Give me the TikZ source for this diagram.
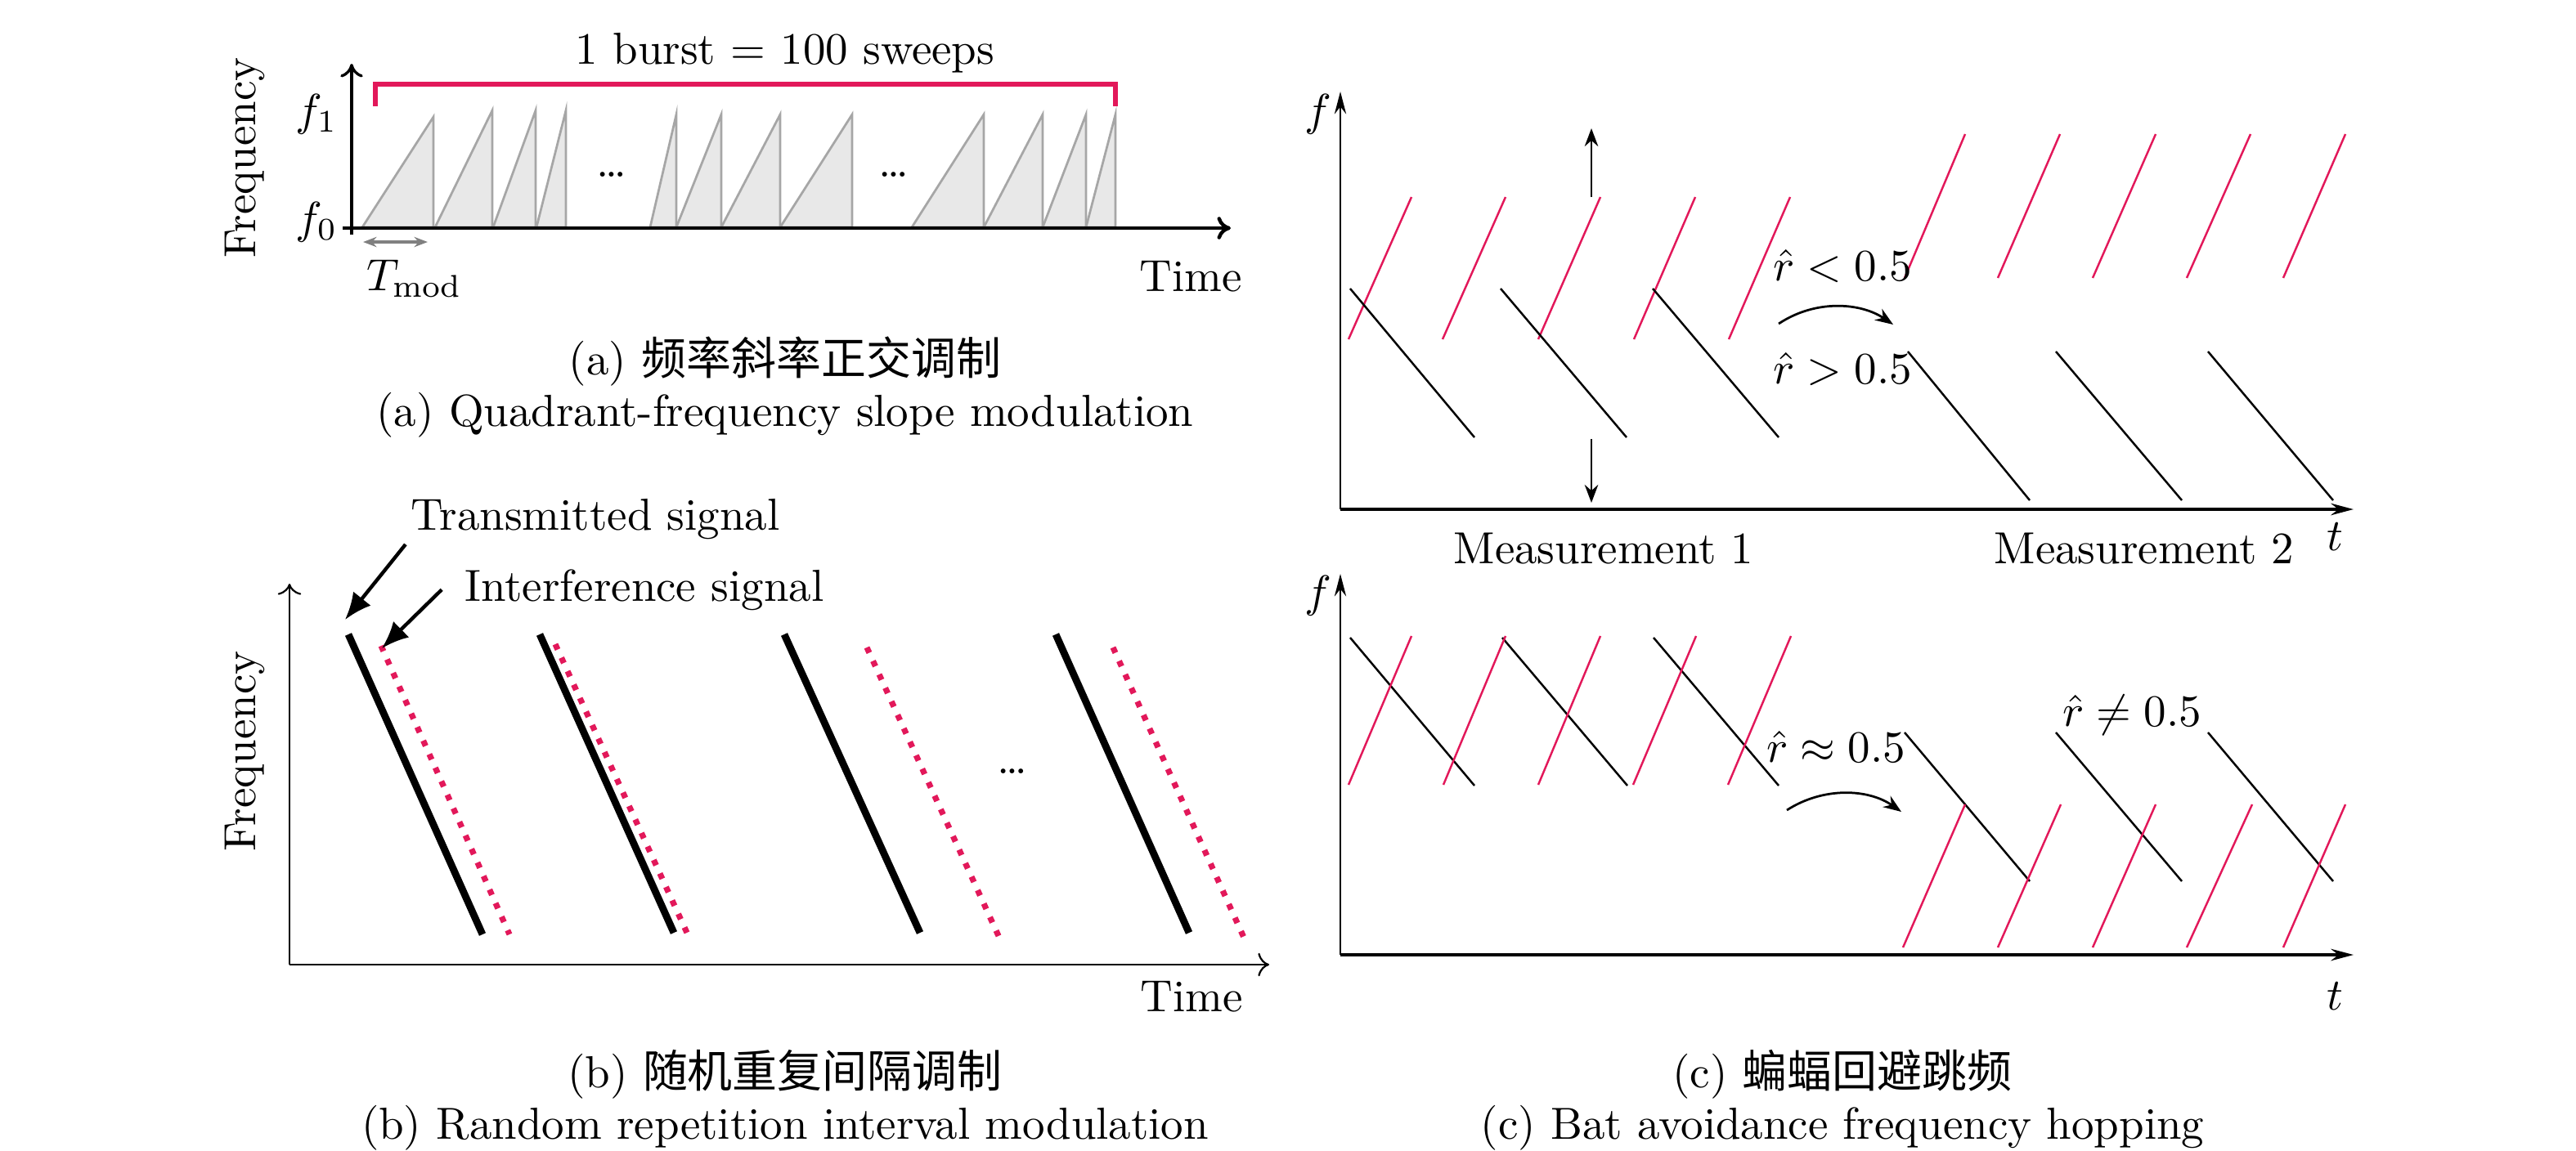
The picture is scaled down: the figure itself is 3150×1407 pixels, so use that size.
\documentclass[tikz,border=0pt]{standalone}
\usepackage{fontspec}
\newfontfamily\cjk{Noto Sans CJK SC}
\usetikzlibrary{positioning,arrows.meta}
\definecolor{hopred}{RGB}{226,24,90}
\tikzset{
  lbl/.style={inner sep=1pt, anchor=base},
  ylbl/.style={inner sep=1pt, rotate=90},
  axisa/.style={line width=0.6pt, -{To[length=3pt,width=5pt]}},
  axisb/.style={line width=0.4pt, ->},
  axisc/.style={line width=0.4pt, -{Stealth[length=5pt,width=2.6pt]}},
  tooth/.style={draw=gray!70, fill=gray!18, line width=0.5pt},
  bracket/.style={draw=hopred, line width=1pt},
  txline/.style={line width=1.6pt},
  ifline/.style={hopred, dotted, line width=1.3pt},
  sigarrow/.style={line width=0.8pt, -{Latex[length=6pt,width=5pt]}},
  upchirp/.style={hopred, line width=0.45pt},
  downchirp/.style={line width=0.45pt},
  hoparrow/.style={line width=0.5pt, -{Stealth[length=4pt,width=3pt]}},
}

\begin{document}
\begin{tikzpicture}[x=0.182pt, y=-0.182pt]
\useasboundingbox (0,0) rectangle (3150,1407);

% (a) slope modulation
\filldraw[tooth] (443,278) -- (530,143) -- (530,278) -- cycle;
\filldraw[tooth] (532,278) -- (602,135) -- (602,278) -- cycle;
\filldraw[tooth] (603,278) -- (655,135) -- (655,278) -- cycle;
\filldraw[tooth] (656,278) -- (692,135) -- (692,278) -- cycle;
\filldraw[tooth] (795,278) -- (827,140) -- (827,278) -- cycle;
\filldraw[tooth] (827,278) -- (882,140) -- (882,278) -- cycle;
\filldraw[tooth] (882,278) -- (954,140) -- (954,278) -- cycle;
\filldraw[tooth] (954,278) -- (1042,140) -- (1042,278) -- cycle;
\filldraw[tooth] (1115,278) -- (1203,140) -- (1203,278) -- cycle;
\filldraw[tooth] (1203,278) -- (1275,140) -- (1275,278) -- cycle;
\filldraw[tooth] (1275,278) -- (1328,140) -- (1328,278) -- cycle;
\filldraw[tooth] (1328,278) -- (1364,140) -- (1364,278) -- cycle;
\draw[axisa] (430,287) -- (430,78);
\draw[axisa, line width=0.8pt] (419,279) -- (1505,279);
\draw[bracket] (459,130) -- (459,103) -- (1364,103) -- (1364,130);
\node (burst) [lbl] at (960,78) {1 burst $=$ 100 sweeps};
\node (fone) [lbl] at (387,153) {$f_1$};
\node (fzero) [lbl] at (387,285) {$f_0$};
\node (freqa) [ylbl] at (299,193) {Frequency};
\node (timea) [lbl] at (1456,356) {Time};
\node (dotsa) [lbl] at (748,216) {\dots};
\node (dotsb) [lbl] at (1093,216) {\dots};
\coordinate (tmodl) at (444,296);
\coordinate (tmodr) at (523,296);
\draw[gray, line width=0.6pt, {Stealth[length=3pt]}-{Stealth[length=3pt]}] (tmodl) -- (tmodr);
\node (tmod) [lbl] at (507,355) {$T_{\mathrm{mod}}$};
\node (capazh) [lbl] at (960,458) {(a) {\cjk 频率斜率正交调制}};
\node (capaen) [below=11.6pt of capazh.base, anchor=base, inner sep=1pt] {(a) Quadrant-frequency slope modulation};

% (b) random repetition interval
\draw[axisb] (354,1180) -- (354,714);
\draw[axisb] (354,1180) -- (1552,1180);
\draw[txline] (426,776) -- (590,1143);
\draw[txline] (660,776) -- (824,1141);
\draw[txline] (959,776) -- (1125,1141);
\draw[txline] (1291,776) -- (1454,1141);
\draw[ifline] (466,790) -- (623,1143);
\draw[ifline] (679,788) -- (840,1141);
\draw[ifline] (1060,792) -- (1222,1147);
\draw[ifline] (1361,792) -- (1522,1149);
\node (txlbl) [lbl] at (728,648) {Transmitted signal};
\node (iflbl) [lbl] at (788,735) {Interference signal};
\coordinate (txtip) at (422,758);
\coordinate (iftip) at (467,793);
\draw[sigarrow] (txlbl.south west) -- (txtip);
\draw[sigarrow] ([xshift=-4pt]iflbl.west) -- (iftip);
\node (freqb) [ylbl] at (299,919) {Frequency};
\node (timeb) [lbl] at (1457,1237) {Time};
\node (dotsc) [lbl] at (1238,946) {\dots};
\node (capbzh) [lbl] at (960,1330) {(b) {\cjk 随机重复间隔调制}};
\node (capben) [below=11.6pt of capbzh.base, anchor=base, inner sep=1pt] {(b) Random repetition interval modulation};

% (c) bat avoidance hopping, top
\draw[axisc] (1639,623) -- (1639,112);
\draw[axisc, line width=0.8pt] (1639,623) -- (2878,623);
\draw[upchirp] (1649,415) -- (1726,241);
\draw[upchirp] (1764,415) -- (1841,241);
\draw[upchirp] (1881,415) -- (1957,241);
\draw[upchirp] (1998,415) -- (2073,241);
\draw[upchirp] (2114,415) -- (2189,241);
\draw[downchirp] (1651,353) -- (1803,535);
\draw[downchirp] (1835,353) -- (1989,535);
\draw[downchirp] (2021,353) -- (2175,535);
\draw[upchirp] (2329,340) -- (2403,164);
\draw[upchirp] (2443,340) -- (2519,164);
\draw[upchirp] (2559,340) -- (2636,164);
\draw[upchirp] (2674,340) -- (2752,164);
\draw[upchirp] (2792,340) -- (2868,164);
\draw[downchirp] (2333,430) -- (2482,612);
\draw[downchirp] (2514,430) -- (2668,612);
\draw[downchirp] (2700,430) -- (2853,612);
\draw[hoparrow] (1946,241) -- (1946,157);
\draw[hoparrow] (1946,537) -- (1946,615);
\node (ftop) [lbl] at (1612,153) {$f$};
\node (ttop) [lbl] at (2855,673) {$t$};
\node (meas1) [lbl] at (1961,689) {Measurement 1};
\node (meas2) [lbl] at (2622,689) {Measurement 2};
\node (rless) [lbl] at (2253,343) {$\hat{r} < 0.5$};
\node (rmore) [lbl] at (2253,469) {$\hat{r} > 0.5$};
\coordinate (jumpa) at (2175,396);
\coordinate (jumpb) at (2315,397);
\draw[hoparrow] (jumpa) .. controls (2220,366) and (2275,370) .. (jumpb);

% (c) bottom
\draw[axisc] (1639,1168) -- (1639,702);
\draw[axisc, line width=0.8pt] (1639,1168) -- (2878,1168);
\draw[downchirp] (1651,780) -- (1803,961);
\draw[downchirp] (1837,780) -- (1990,961);
\draw[downchirp] (2022,780) -- (2175,961);
\draw[upchirp] (1649,960) -- (1726,778);
\draw[upchirp] (1765,960) -- (1841,778);
\draw[upchirp] (1881,960) -- (1957,778);
\draw[upchirp] (1997,960) -- (2074,778);
\draw[upchirp] (2113,960) -- (2190,778);
\draw[downchirp] (2329,896) -- (2482,1078);
\draw[downchirp] (2514,896) -- (2668,1078);
\draw[downchirp] (2700,896) -- (2853,1078);
\draw[upchirp] (2327,1159) -- (2403,984);
\draw[upchirp] (2443,1159) -- (2520,984);
\draw[upchirp] (2559,1159) -- (2636,984);
\draw[upchirp] (2674,1159) -- (2754,984);
\draw[upchirp] (2792,1159) -- (2868,984);
\node (fbot) [lbl] at (1612,742) {$f$};
\node (tbot) [lbl] at (2855,1235) {$t$};
\node (rapprox) [lbl] at (2245,932) {$\hat{r} \approx 0.5$};
\node (rneq) [lbl] at (2607,888) {$\hat{r} \neq 0.5$};
\coordinate (jumpc) at (2185,991);
\coordinate (jumpd) at (2325,993);
\draw[hoparrow] (jumpc) .. controls (2230,962) and (2285,965) .. (jumpd);
\node (capczh) [lbl] at (2253,1330) {(c) {\cjk 蝙蝠回避跳频}};
\node (capcen) [below=11.6pt of capczh.base, anchor=base, inner sep=1pt] {(c) Bat avoidance frequency hopping};
\end{tikzpicture}
\end{document}
